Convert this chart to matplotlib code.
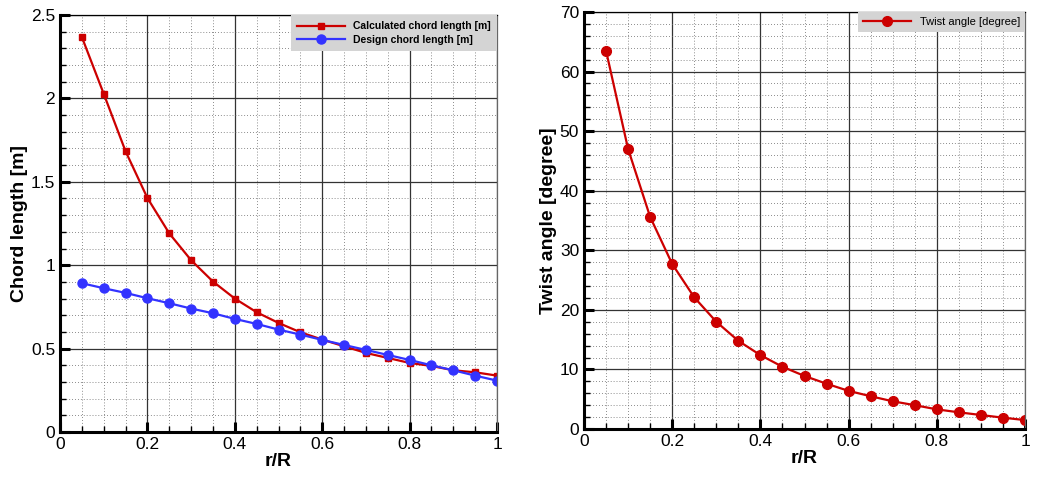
import matplotlib.pyplot as plt
from matplotlib.ticker import MultipleLocator

plt.rcParams['font.family'] = ['Liberation Sans', 'DejaVu Sans']

# r/R stations
r_R = [0.05, 0.10, 0.15, 0.20, 0.25, 0.30, 0.35, 0.40, 0.45, 0.50,
       0.55, 0.60, 0.65, 0.70, 0.75, 0.80, 0.85, 0.90, 0.95, 1.00]

chord_calc = [2.368, 2.028, 1.683, 1.403, 1.191, 1.030, 0.902, 0.800, 0.718, 0.654,
              0.598, 0.554, 0.514, 0.474, 0.444, 0.414, 0.396, 0.370, 0.358, 0.338]
chord_design = [0.892, 0.862, 0.834, 0.802, 0.772, 0.740, 0.712, 0.678, 0.648, 0.614,
                0.584, 0.552, 0.522, 0.492, 0.462, 0.432, 0.400, 0.370, 0.338, 0.308]
twist = [63.5, 47.0, 35.6, 27.7, 22.1, 18.0, 14.8, 12.4, 10.45, 8.9,
         7.6, 6.4, 5.5, 4.65, 4.0, 3.3, 2.8, 2.35, 1.9, 1.5]

fig = plt.figure(figsize=(10.47, 4.88), dpi=100)
W, H = 1047, 488
ax1 = fig.add_axes([60 / W, 1 - 432 / H, (497 - 60) / W, (432 - 15) / H])
ax2 = fig.add_axes([584 / W, 1 - 429 / H, (1025 - 584) / W, (429 - 12) / H])


def style(ax, ymax, ymaj, ymin):
    ax.set_xlim(0, 1)
    ax.set_ylim(0, ymax)
    ax.xaxis.set_major_locator(MultipleLocator(0.2))
    ax.xaxis.set_minor_locator(MultipleLocator(0.05))
    ax.yaxis.set_major_locator(MultipleLocator(ymaj))
    ax.yaxis.set_minor_locator(MultipleLocator(ymin))
    ax.xaxis.set_major_formatter(plt.FuncFormatter(lambda v, p: f'{v:g}'))
    ax.yaxis.set_major_formatter(plt.FuncFormatter(lambda v, p: f'{v:g}'))
    ax.grid(which='major', color='#333333', linewidth=0.9)
    ax.grid(which='minor', color='#666666', linewidth=0.6, linestyle=(0, (1, 2.5)))
    ax.set_axisbelow(True)
    ax.tick_params(which='major', direction='in', length=7, width=2.2,
                   labelsize=12.5, top=False, right=False)
    ax.tick_params(which='minor', direction='in', length=4, width=1.0,
                   top=False, right=False)
    ax.spines['left'].set_linewidth(2.2)
    ax.spines['bottom'].set_linewidth(2.2)
    ax.spines['top'].set_linewidth(0.9)
    ax.spines['right'].set_linewidth(0.9)
    ax.spines['right'].set_color('#666666')
    ax.set_xlabel('r/R', fontsize=14, fontweight='bold', labelpad=1)


style(ax1, 2.5, 0.5, 0.1)
ax1.plot(r_R, chord_calc, color='#cc0000', linewidth=1.6, marker='s', markersize=5,
         label='Calculated chord length [m]')
ax1.plot(r_R, chord_design, color='#3333ff', linewidth=1.6, marker='o', markersize=6.5,
         label='Design chord length [m]')
ax1.set_ylabel('Chord length [m]', fontsize=14, fontweight='bold', labelpad=2)
leg1 = ax1.legend(loc='upper right', prop={'weight': 'bold', 'size': 7.5},
                  frameon=True, fancybox=False, borderaxespad=0, handlelength=4.6,
                  handletextpad=0.8, borderpad=0.6, labelspacing=0.35)
leg1.get_frame().set_facecolor('#d4d4d4')
leg1.get_frame().set_edgecolor('none')
leg1.get_frame().set_alpha(1)

style(ax2, 70, 10, 2)
ax2.plot(r_R, twist, color='#cc0000', linewidth=1.6, marker='o', markersize=7,
         label='Twist angle [degree]')
ax2.set_ylabel('Twist angle [degree]', fontsize=14, fontweight='bold', labelpad=2)
leg2 = ax2.legend(loc='upper right', fontsize=8, frameon=True, fancybox=False,
                  borderaxespad=0, handlelength=4.3, handletextpad=0.8, borderpad=0.45)
leg2.get_frame().set_facecolor('#d4d4d4')
leg2.get_frame().set_edgecolor('none')
leg2.get_frame().set_alpha(1)

fig.savefig('out.png', dpi=100)
